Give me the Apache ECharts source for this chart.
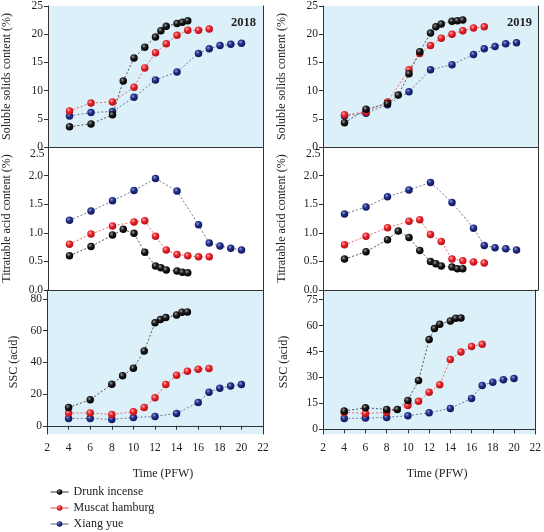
<!DOCTYPE html>
<html>
<head>
<meta charset="utf-8">
<script src="https://cdn.jsdelivr.net/npm/echarts@6/dist/echarts.min.js"></script>
<style>html,body{margin:0;padding:0;background:#fff}#c{width:544px;height:532px}</style>
</head>
<body>
<div id="c"></div>
<script>
// ---- data ----
var varieties = ['Drunk incense', 'Muscat hamburg', 'Xiang yue'];
var weeksDI = [4, 6, 8, 9, 10, 11, 12, 12.5, 13, 14, 14.5, 15];
var weeksMH = [4, 6, 8, 10, 11, 12, 13, 14, 15, 16, 17];
var weeksXY = [4, 6, 8, 10, 12, 14, 16, 17, 18, 19, 20];
var xTicks = [2, 4, 6, 8, 10, 12, 14, 16, 18, 20, 22];

// 2018
var ssc2018DI = [3.6, 4.1, 5.7, 11.7, 15.8, 17.7, 19.5, 20.6, 21.4, 21.9, 22.1, 22.4];
var ssc2018MH = [6.4, 7.8, 8.0, 10.6, 14.0, 16.7, 18.3, 19.8, 20.7, 20.7, 20.9];
var ssc2018XY = [5.5, 6.1, 6.3, 8.8, 11.9, 13.3, 16.6, 17.4, 18.0, 18.2, 18.4];
var ta2018DI = [0.60, 0.76, 0.96, 1.06, 0.99, 0.66, 0.42, 0.39, 0.35, 0.33, 0.31, 0.30];
var ta2018MH = [0.80, 0.98, 1.12, 1.19, 1.21, 0.94, 0.70, 0.62, 0.60, 0.58, 0.58];
var ta2018XY = [1.22, 1.38, 1.56, 1.74, 1.95, 1.73, 1.14, 0.82, 0.77, 0.73, 0.70];
var ratio2018DI = [11.5, 16.4, 26.2, 31.5, 36.3, 47.2, 64.9, 67.0, 68.2, 69.9, 71.6, 71.8];
var ratio2018MH = [8.0, 8.0, 7.1, 8.8, 11.5, 17.6, 26.0, 31.9, 34.4, 35.7, 36.1];
var ratio2018XY = [4.6, 4.6, 4.0, 5.2, 5.9, 7.8, 14.7, 21.2, 23.7, 25.0, 26.0];

// 2019
var ssc2019DI = [4.3, 6.7, 7.7, 9.2, 13.0, 16.9, 20.2, 21.3, 21.8, 22.3, 22.4, 22.5];
var ssc2019MH = [5.7, 6.2, 8.0, 13.7, 16.6, 18.0, 19.3, 20.0, 20.6, 21.1, 21.3];
var ssc2019XY = [5.5, 6.0, 7.5, 9.8, 13.7, 14.6, 16.4, 17.4, 17.8, 18.3, 18.5];
var ta2019DI = [0.54, 0.67, 0.88, 1.03, 0.92, 0.69, 0.50, 0.46, 0.42, 0.40, 0.37, 0.37];
var ta2019MH = [0.79, 0.94, 1.09, 1.20, 1.23, 0.97, 0.85, 0.54, 0.51, 0.49, 0.47];
var ta2019XY = [1.33, 1.45, 1.63, 1.75, 1.88, 1.53, 1.08, 0.78, 0.74, 0.72, 0.70];
var ratio2019DI = [10.6, 12.5, 11.5, 11.5, 16.7, 28.3, 51.9, 58.3, 60.8, 62.7, 64.3, 64.4];
var ratio2019MH = [9.8, 9.2, 9.8, 13.8, 16.2, 21.5, 25.8, 40.4, 44.8, 47.9, 49.2];
var ratio2019XY = [6.3, 6.5, 6.9, 7.9, 9.6, 12.1, 17.9, 25.4, 27.3, 28.7, 29.4];

// ---- styling ----
var FONT = 'Liberation Serif';
var BG = '#dcf0fa';
var TXT = '#222';
var colors = {
  'Drunk incense': {dark: '#000000', mid: '#1a1a1a', hi: '#9a9a9a', line: '#555555'},
  'Muscat hamburg': {dark: '#b80f16', mid: '#e8232b', hi: '#ffb0b0', line: '#e86a6a'},
  'Xiang yue': {dark: '#121a5c', mid: '#1f2d86', hi: '#8f9ad8', line: '#74789a'}
};

function grad(c) {
  return {type: 'radial', x: 0.38, y: 0.35, r: 0.65,
    colorStops: [{offset: 0, color: c.hi}, {offset: 0.45, color: c.mid}, {offset: 1, color: c.dark}]};
}

function pairs(xs, ys) {
  return xs.map(function (x, i) { return [x, ys[i]]; });
}

var gridDefs = [
  {left: 47, top: 4, width: 216, height: 143, bg: BG},
  {left: 47, top: 147, width: 216, height: 143, bg: '#ffffff'},
  {left: 47, top: 290, width: 216, height: 144, bg: BG},
  {left: 323, top: 4, width: 215, height: 143, bg: BG},
  {left: 323, top: 147, width: 215, height: 143, bg: '#ffffff'},
  {left: 323, top: 290, width: 215, height: 144, bg: BG}
];

var grids = gridDefs.map(function (g) {
  return {left: g.left, top: g.top, width: g.width, height: g.height, show: true,
    backgroundColor: g.bg, borderWidth: 0, containLabel: false};
});

var axisLineStyle = {show: true, lineStyle: {color: '#333', width: 1}};
var labelStyle = {color: TXT, fontFamily: FONT, fontSize: 11.5};

var xAxes = [];
for (var i = 0; i < 6; i++) {
  var isBottom = (i === 2 || i === 5);
  var isMid = (i === 1 || i === 4);
  xAxes.push({
    type: 'value', gridIndex: i, min: 2, max: 22, interval: 2, position: 'bottom',
    axisLine: (isBottom || isMid) ? axisLineStyle : {show: false},
    axisTick: {show: isBottom, length: 4, lineStyle: {color: '#333'}},
    axisLabel: isBottom ? Object.assign({show: true, margin: 8}, labelStyle) : {show: false},
    splitLine: {show: false},
    name: isBottom ? 'Time (PFW)' : '',
    nameLocation: 'middle', nameGap: 34,
    nameTextStyle: {color: TXT, fontFamily: FONT, fontSize: 12, padding: [0, 0, 0, 16]}
  });
}
// top frame lines for top panels
xAxes.push({type: 'value', gridIndex: 0, min: 2, max: 22, position: 'top', axisLine: axisLineStyle,
  axisTick: {show: false}, axisLabel: {show: false}, splitLine: {show: false}});
xAxes.push({type: 'value', gridIndex: 3, min: 2, max: 22, position: 'top', axisLine: axisLineStyle,
  axisTick: {show: false}, axisLabel: {show: false}, splitLine: {show: false}});

var yDefs = [
  {min: 0, max: 25, interval: 5, name: 'Soluble solids content (%)', gap: 35},
  {min: 0, max: 2.5, interval: 0.5, name: 'Titratable acid content (%)', gap: 35, fmt: 1},
  {min: -5.2, max: 85.6, ticks: [0, 20, 40, 60, 80], name: 'SSC (acid)', gap: 27},
  {min: 0, max: 25, interval: 5, name: 'Soluble solids content (%)', gap: 35},
  {min: 0, max: 2.5, interval: 0.5, name: 'Titratable acid content (%)', gap: 35, fmt: 1},
  {min: -2.7, max: 80.6, ticks: [0, 15, 30, 45, 60, 75], name: 'SSC (acid)', gap: 33}
];

var yAxes = [];
yDefs.forEach(function (d, i) {
  var ax = {
    type: 'value', gridIndex: i, min: d.min, max: d.max, position: 'left',
    axisLine: axisLineStyle,
    axisTick: {show: true, length: 4, lineStyle: {color: '#333'}},
    axisLabel: Object.assign({show: true, margin: 5, showMinLabel: true,
      showMaxLabel: !d.fmt,
      formatter: d.fmt ? function (v) { return v.toFixed(1); } : null}, labelStyle),
    splitLine: {show: false},
    name: d.name, nameLocation: 'middle', nameGap: d.gap, nameRotate: 90,
    nameTextStyle: {color: TXT, fontFamily: FONT, fontSize: 12}
  };
  if (d.ticks) {
    ax.interval = d.ticks[1] - d.ticks[0];
    ax.customValues = d.ticks;
    ax.axisTick.customValues = d.ticks;
    ax.axisLabel.customValues = d.ticks;
  } else {
    ax.interval = d.interval;
  }
  yAxes.push(ax);
});
for (var j = 0; j < 6; j++) {
  yAxes.push({type: 'value', gridIndex: j, min: yDefs[j].min, max: yDefs[j].max, position: 'right',
    axisLine: axisLineStyle, axisTick: {show: false}, axisLabel: {show: false}, splitLine: {show: false}});
}

var series = [];
function add(name, xs, ys, g) {
  var c = colors[name];
  series.push({
    name: name, type: 'line', xAxisIndex: g, yAxisIndex: g,
    data: pairs(xs, ys), symbol: 'circle', symbolSize: 7.5, showSymbol: true,
    lineStyle: {color: c.line, width: 1, type: [2, 2]},
    itemStyle: {color: grad(c), borderWidth: 0},
    z: name === 'Drunk incense' ? 4 : (name === 'Muscat hamburg' ? 3 : 2)
  });
}
add('Drunk incense', weeksDI, ssc2018DI, 0);
add('Muscat hamburg', weeksMH, ssc2018MH, 0);
add('Xiang yue', weeksXY, ssc2018XY, 0);
add('Drunk incense', weeksDI, ta2018DI, 1);
add('Muscat hamburg', weeksMH, ta2018MH, 1);
add('Xiang yue', weeksXY, ta2018XY, 1);
add('Drunk incense', weeksDI, ratio2018DI, 2);
add('Muscat hamburg', weeksMH, ratio2018MH, 2);
add('Xiang yue', weeksXY, ratio2018XY, 2);
add('Drunk incense', weeksDI, ssc2019DI, 3);
add('Muscat hamburg', weeksMH, ssc2019MH, 3);
add('Xiang yue', weeksXY, ssc2019XY, 3);
add('Drunk incense', weeksDI, ta2019DI, 4);
add('Muscat hamburg', weeksMH, ta2019MH, 4);
add('Xiang yue', weeksXY, ta2019XY, 4);
add('Drunk incense', weeksDI, ratio2019DI, 5);
add('Muscat hamburg', weeksMH, ratio2019MH, 5);
add('Xiang yue', weeksXY, ratio2019XY, 5);

var legendTops = [484, 500, 516];
var legends = varieties.map(function (v, k) {
  return {
    data: [v], orient: 'vertical', left: 45, top: legendTops[k],
    itemWidth: 18, itemHeight: 7, padding: [2, 5, 2, 5],
    lineStyle: {type: 'solid', width: 1.2},
    textStyle: {fontFamily: FONT, fontSize: 12, color: TXT}
  };
});

var option = {
  animation: false,
  backgroundColor: '#ffffff',
  title: [
    {text: '2018', left: 226, top: 11, textStyle: {fontFamily: FONT, fontSize: 12.5, fontWeight: 'bold', color: TXT}},
    {text: '2019', left: 502, top: 11, textStyle: {fontFamily: FONT, fontSize: 12.5, fontWeight: 'bold', color: TXT}}
  ],
  grid: grids,
  xAxis: xAxes,
  yAxis: yAxes,
  legend: legends,
  graphic: [
    {type: 'text', left: 30, top: 148, style: {text: '2.5', font: '11.5px "Liberation Serif"', fill: TXT}},
    {type: 'text', left: 306, top: 148, style: {text: '2.5', font: '11.5px "Liberation Serif"', fill: TXT}}
  ],
  series: series
};

echarts.init(document.getElementById('c'), null, {renderer: 'canvas'}).setOption(option);
</script>
</body>
</html>
